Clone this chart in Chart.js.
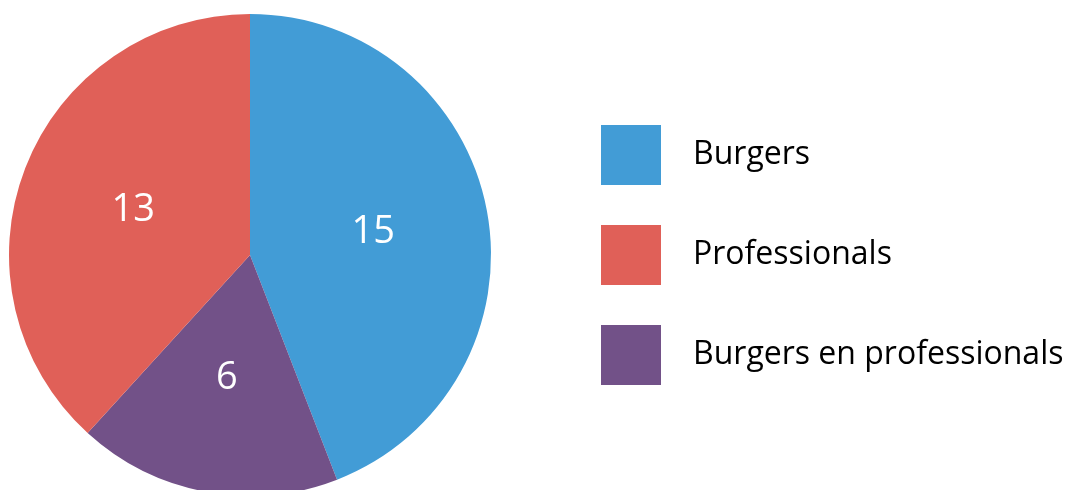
<!DOCTYPE html>
<html>
<head>
<meta charset="utf-8">
<script src="https://cdn.jsdelivr.net/npm/chart.js@4"></script>
<style>
  html, body { margin: 0; padding: 0; background: #fff; overflow: hidden; }
  #wrap { position: relative; width: 1072px; height: 510px; }
</style>
</head>
<body>
<div id="wrap"><canvas id="c"></canvas></div>
<script>
// Data (slice order as drawn, clockwise from 12 o'clock)
const categories = ['Burgers', 'Burgers en professionals', 'Professionals'];
const values = [15, 6, 13];
const colors = ['#429CD6', '#725188', '#E06058'];
// Legend order as shown in the reference
const legendOrder = ['Burgers', 'Professionals', 'Burgers en professionals'];

const FONT = "'Open Sans', 'DejaVu Sans', sans-serif";

const sliceLabels = {
  id: 'sliceLabels',
  afterDatasetsDraw(chart) {
    const ctx = chart.ctx;
    const meta = chart.getDatasetMeta(0);
    ctx.save();
    ctx.fillStyle = '#ffffff';
    ctx.font = '38px ' + FONT;
    ctx.textAlign = 'center';
    ctx.textBaseline = 'middle';
    meta.data.forEach((arc, i) => {
      const p = arc.getProps(['x', 'y', 'startAngle', 'endAngle', 'outerRadius'], true);
      const mid = (p.startAngle + p.endAngle) / 2;
      const r = p.outerRadius * 0.52;
      ctx.fillText(String(values[i]), p.x + Math.cos(mid) * r, p.y + Math.sin(mid) * r);
    });
    ctx.restore();
  }
};

const sideLegend = {
  id: 'sideLegend',
  afterDraw(chart, args, opts) {
    const ctx = chart.ctx;
    ctx.save();
    ctx.font = opts.fontSize + 'px ' + FONT;
    ctx.textBaseline = 'middle';
    ctx.textAlign = 'left';
    legendOrder.forEach((name, k) => {
      const i = categories.indexOf(name);
      const top = opts.top + k * opts.step;
      ctx.fillStyle = colors[i];
      ctx.fillRect(opts.left, top, opts.box, opts.box);
      ctx.fillStyle = '#000000';
      ctx.fillText(name, opts.left + opts.box + opts.gap, top + opts.box / 2);
    });
    ctx.restore();
  }
};

new Chart(document.getElementById('c'), {
  type: 'pie',
  data: {
    labels: categories,
    datasets: [{
      data: values,
      backgroundColor: colors,
      borderWidth: 0,
      hoverOffset: 0
    }]
  },
  options: {
    responsive: true,
    maintainAspectRatio: false,
    animation: false,
    layout: { padding: { left: 9, right: 581, top: 14, bottom: 14 } },
    plugins: {
      legend: { display: false },
      tooltip: { enabled: false },
      sideLegend: { left: 601, top: 125, step: 100, box: 60, gap: 32, fontSize: 32 }
    }
  },
  plugins: [sliceLabels, sideLegend]
});
</script>
</body>
</html>
